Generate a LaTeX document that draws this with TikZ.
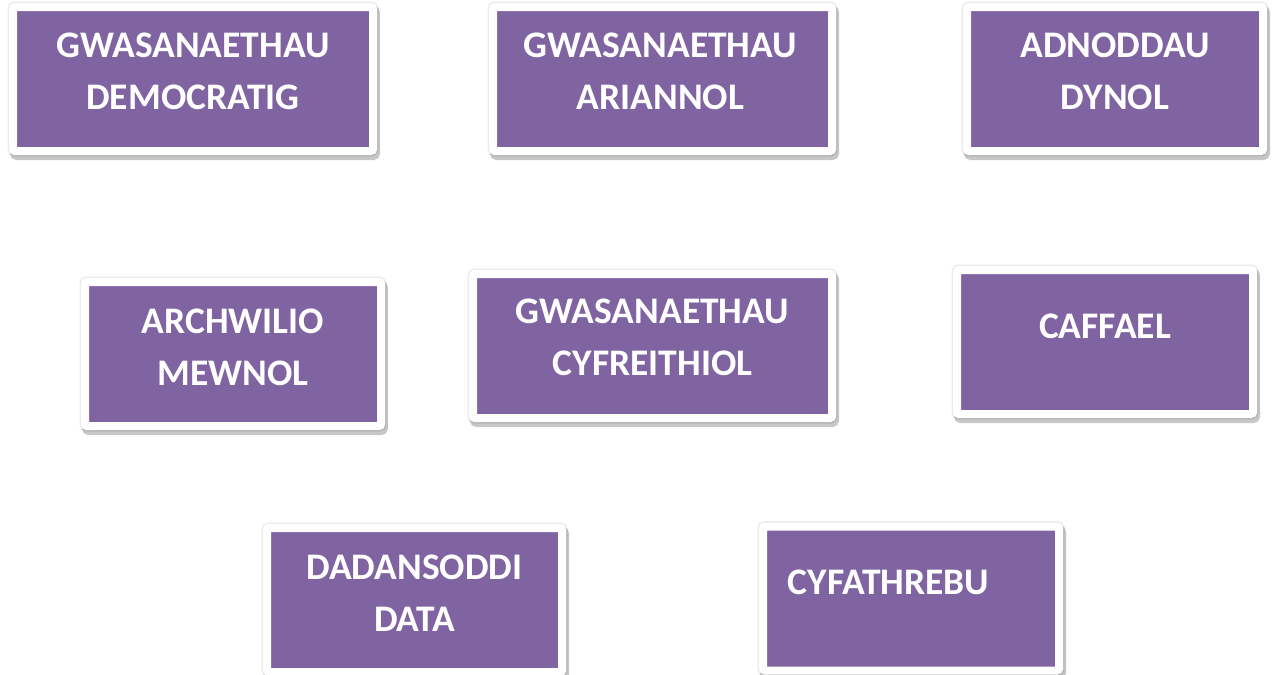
\documentclass[tikz,border=0pt]{standalone}
\usepackage{fontspec}
\setmainfont{Carlito}
\usetikzlibrary{shadows}
\definecolor{unitpurple}{HTML}{8064A2}

\begin{document}
\begin{tikzpicture}[x=1pt, y=-1pt,
  main/.style = {draw=white, line width=8pt, fill=unitpurple, rounded corners=2pt,
    minimum height=144pt, inner sep=0pt,
    preaction={draw=black!8, line width=11pt},
    drop shadow={shadow xshift=2pt, shadow yshift=-4pt, opacity=.22, fill=black, draw=black, line width=10pt}},
  txt/.style = {text=white, font=\fontsize{37.5}{52}\selectfont\bfseries, align=center, inner sep=0pt}]
  \useasboundingbox[fill=white] (0,0) rectangle (1275,675);
  % purple units
  \node[main, minimum width=360pt] (1) at (193,79) {};
  \node[main, minimum width=339pt] (2) at (662.5,79) {};
  \node[main, minimum width=296pt] (3) at (1115,79) {};
  \node[main, minimum width=296pt] (4) at (233,354) {};
  \node[main, minimum width=359pt] (5) at (652.5,346) {};
  \node[main, minimum width=296pt] (6) at (1105,342) {};
  \node[main, minimum width=295pt] (7) at (414.5,600) {};
  \node[main, minimum width=296pt] (8) at (911,598.5) {};
  % names
  \node[txt] (t1) at ([yshift=8pt]1) {GWASANAETHAU\\DEMOCRATIG};
  \node[txt] (t2) at ([xshift=-2pt, yshift=8pt]2) {GWASANAETHAU\\ARIANNOL};
  \node[txt] (t3) at ([yshift=8pt]3) {ADNODDAU\\DYNOL};
  \node[txt] (t4) at ([yshift=7pt]4) {ARCHWILIO\\MEWNOL};
  \node[txt] (t5) at ([yshift=8.5pt]5) {GWASANAETHAU\\CYFREITHIOL};
  \node[txt] (t6) at ([yshift=16pt]6) {CAFFAEL};
  \node[txt] (t7) at ([yshift=7pt]7) {DADANSODDI\\DATA};
  \node[txt] (t8) at ([xshift=-22.5pt, yshift=16.5pt]8) {CYFATHREBU};
\end{tikzpicture}
\end{document}
